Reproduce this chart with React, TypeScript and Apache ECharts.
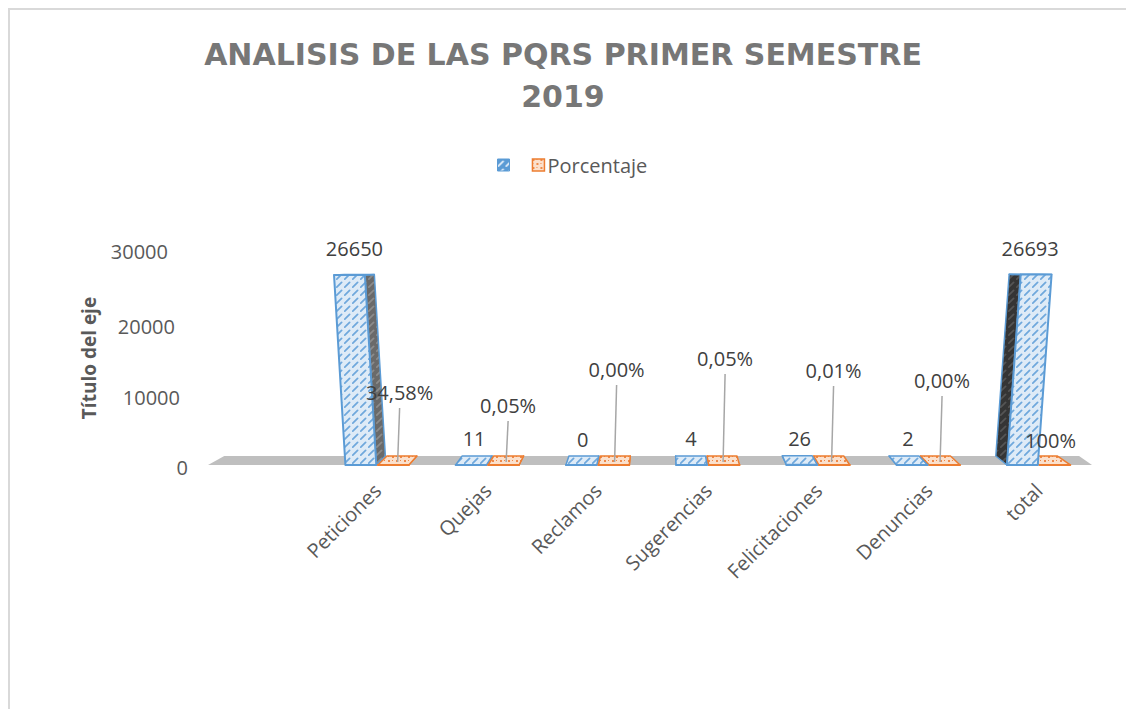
import React, { useEffect, useRef } from 'react';
import * as echarts from 'echarts';

const categories = ['', 'Peticiones', 'Quejas', 'Reclamos', 'Sugerencias', 'Felicitaciones', 'Denuncias', 'total'];
const cantidad: (number | null)[] = [null, 26650, 11, 0, 4, 26, 2, 26693];
const porcentaje: (number | null)[] = [null, 34.58, 0.05, 0.0, 0.05, 0.01, 0.0, 100];
const yTicks = [0, 10000, 20000, 30000];

// layout only: how far (px) each percentage label was pulled above the floor
const pctLabelRise = [0, 73, 60, 96, 107, 95, 85, 25];
// layout only: extra right padding of y tick labels (perspective skew)
const yLabelShift = [0, 8, 13, 20];
// layout only: vertical nudge of y tick labels (perspective)
const yLabelDrop = [4, 8, 8, 0];

const FONT = "'Open Sans', 'Noto Sans', sans-serif";

function makePattern(bg: string, fg: string, kind: 'diag' | 'check') {
  const size = 8;
  const cv = document.createElement('canvas');
  cv.width = size;
  cv.height = size;
  const ctx = cv.getContext('2d')!;
  ctx.fillStyle = bg;
  ctx.fillRect(0, 0, size, size);
  ctx.strokeStyle = fg;
  ctx.fillStyle = fg;
  ctx.lineWidth = 1.7;
  ctx.lineCap = 'round';
  if (kind === 'diag') {
    ctx.beginPath();
    ctx.moveTo(0.8, 7.2);
    ctx.lineTo(5.6, 2.4);
    ctx.stroke();
  } else {
    ctx.fillRect(0, 0, 2, 2);
    ctx.fillRect(4, 4, 2, 2);
    ctx.fillRect(4, 0, 1, 1);
    ctx.fillRect(0, 4, 1, 1);
  }
  return { image: cv.toDataURL(), repeat: 'repeat', imageWidth: size, imageHeight: size };
}

function fmtPct(v: number) {
  return v >= 100 ? '100%' : v.toFixed(2).replace('.', ',') + '%';
}

export default function App() {
  const ref = useRef<HTMLDivElement>(null);

  useEffect(() => {
    if (!ref.current) return;
    const chart = echarts.init(ref.current, undefined, { renderer: 'svg' });

    const bluePat = makePattern('#deebf7', '#6fa8dc', 'diag');
    const orangePat = makePattern('#fbe0cc', '#ee8a4a', 'check');
    const blueIcon = makePattern('#5b9bd5', '#e8f1fa', 'diag');
    const darkRight = makePattern('#6a6a6a', '#8c8c8c', 'diag');
    const darkLeft = makePattern('#353535', '#555555', 'diag');

    const geom = (params: any, api: any, kind: 'blue' | 'orange', v: number) => {
      const idx = api.value(0);
      const cs = params.coordSys;
      const base = api.coord([idx, 0]);
      const top = api.coord([idx, v]);
      const slot = api.size([1, 0])[0];
      const c = base[0];
      const zeroY = base[1];
      const VX = cs.x + cs.width * 0.508;
      const horizon = zeroY - cs.height * 0.92;
      const x0 = kind === 'blue' ? c - slot * 0.29 : c + slot * 0.005;
      const x1 = kind === 'blue' ? c - slot * 0.01 : c + slot * 0.285;
      const yt = top[1];
      const h = zeroY - yt;
      const xc = (x0 + x1) / 2;
      const s = (xc - VX) * 0.0002 * h;
      const back = (p: number[]) => {
        const f = Math.max(0, (p[1] - horizon) / (zeroY - horizon));
        return [p[0] + (VX - p[0]) * 0.032, p[1] - 9 * f];
      };
      const BL = [x0, zeroY];
      const BR = [x1, zeroY];
      const TR = [x1 + s, yt];
      const TL = [x0 + s, yt];
      return { BL, BR, TR, TL, BLb: back(BL), BRb: back(BR), TRb: back(TR), TLb: back(TL), xc, VX, zeroY, yt };
    };

    const boxChildren = (g: any, kind: 'blue' | 'orange', zBase: number) => {
      const stroke = kind === 'blue' ? '#5b9bd5' : '#ed7d31';
      const pat = kind === 'blue' ? bluePat : orangePat;
      const rightSide = g.xc < g.VX;
      const side = rightSide ? [g.BR, g.TR, g.TRb, g.BRb] : [g.BL, g.TL, g.TLb, g.BLb];
      return [
        {
          type: 'polygon', z2: zBase,
          shape: { points: side },
          style: { fill: kind === 'blue' ? (rightSide ? darkRight : darkLeft) : orangePat, stroke, lineWidth: 1.5, lineJoin: 'round' },
        },
        {
          type: 'polygon', z2: zBase + 1,
          shape: { points: [g.TL, g.TR, g.TRb, g.TLb] },
          style: { fill: pat, stroke, lineWidth: 1.5, lineJoin: 'round' },
        },
        {
          type: 'polygon', z2: zBase + 2,
          shape: { points: [g.BL, g.BR, g.TR, g.TL] },
          style: { fill: pat, stroke, lineWidth: 2, lineJoin: 'round' },
        },
      ];
    };

    const blueData = categories
      .map((_, i) => [i, cantidad[i]])
      .filter((d) => d[1] != null);
    const orangeData = categories
      .map((_, i) => [i, porcentaje[i] == null ? null : (porcentaje[i] as number) / 100, porcentaje[i]])
      .filter((d) => d[2] != null);

    const option: any = {
      animation: false,
      title: {
        text: 'ANALISIS DE LAS PQRS PRIMER SEMESTRE\n2019',
        left: 'center',
        top: 33,
        padding: [0, 0, 0, 18],
        textStyle: {
          fontFamily: "'DejaVu Sans', sans-serif",
          fontWeight: 'bold',
          fontSize: 30,
          lineHeight: 42,
          color: '#777777',
        },
      },
      legend: {
        left: 492,
        top: 150,
        icon: 'rect',
        itemWidth: 12,
        itemHeight: 12,
        itemGap: 14,
        textStyle: { color: '#595959', fontSize: 20, fontFamily: FONT, padding: [0, 0, 0, -2] },
        data: [
          { name: ' ', itemStyle: { color: blueIcon, borderColor: '#5b9bd5', borderWidth: 1 } },
          { name: 'Porcentaje', itemStyle: { color: orangePat, borderColor: '#ed7d31', borderWidth: 1.5 } },
        ],
      },
      graphic: [
        { type: 'line', shape: { x1: 8, y1: 9, x2: 1126, y2: 9 }, style: { stroke: '#d9d9d9', lineWidth: 2 } },
        { type: 'line', shape: { x1: 9, y1: 8, x2: 9, y2: 709 }, style: { stroke: '#d9d9d9', lineWidth: 2 } },
      ],
      grid: { left: 212, right: 32, top: 251, bottom: 244 },
      xAxis: {
        type: 'category',
        data: categories,
        axisLine: { show: false },
        axisTick: { show: false },
        splitLine: { show: false },
        axisLabel: {
          interval: 0,
          rotate: 45,
          margin: 22,
          color: '#595959',
          fontSize: 20,
          fontFamily: FONT,
        },
      },
      yAxis: {
        type: 'value',
        min: 0,
        max: 30000,
        interval: 10000,
        name: 'Título del eje',
        nameLocation: 'middle',
        nameRotate: 90,
        nameGap: 114,
        nameTextStyle: { color: '#595959', fontSize: 19, fontWeight: 'bold', fontFamily: FONT },
        axisLine: { show: false },
        axisTick: { show: false },
        splitLine: { show: false },
        axisLabel: {
          margin: 24,
          formatter: (v: number) => `{r${yTicks.indexOf(v)}|${v}}`,
          rich: Object.fromEntries(
            yTicks.map((_, i) => [
              'r' + i,
              { color: '#595959', fontSize: 20, fontFamily: FONT, padding: [yLabelDrop[i], yLabelShift[i], 0, 0] },
            ])
          ),
        },
      },
      series: [
        {
          type: 'custom',
          name: 'floor',
          z: 1,
          silent: true,
          data: [[0, 0]],
          renderItem: (params: any, api: any) => {
            const cs = params.coordSys;
            const zeroY = api.coord([0, 0])[1];
            const VX = cs.x + cs.width * 0.508;
            const fl = [cs.x - 4, zeroY];
            const fr = [cs.x + cs.width - 2, zeroY];
            const bl = [fl[0] + (VX - fl[0]) * 0.036, zeroY - 9];
            const br = [fr[0] + (VX - fr[0]) * 0.03, zeroY - 9];
            return {
              type: 'polygon',
              shape: { points: [fl, fr, br, bl] },
              style: { fill: '#bfbfbf' },
            };
          },
        },
        {
          type: 'custom',
          name: ' ',
          z: 2,
          itemStyle: { color: '#5b9bd5' },
          data: blueData,
          renderItem: (params: any, api: any) => {
            const v = api.value(1);
            const g = geom(params, api, 'blue', v);
            const zBase = g.xc < g.VX ? 10 : 30;
            const lx = (g.TL[0] + g.TR[0] + g.TLb[0] + g.TRb[0]) / 4;
            return {
              type: 'group',
              children: [
                ...boxChildren(g, 'blue', zBase),
                {
                  type: 'text', z2: 60,
                  style: {
                    text: String(v),
                    x: lx,
                    y: g.yt - 16,
                    align: 'center', verticalAlign: 'bottom',
                    textAlign: 'center', textVerticalAlign: 'bottom',
                    fill: '#404040',
                    fontSize: 20, fontFamily: FONT,
                  },
                },
              ],
            };
          },
        },
        {
          type: 'custom',
          name: 'Porcentaje',
          z: 2,
          itemStyle: { color: '#ed7d31' },
          data: orangeData,
          renderItem: (params: any, api: any) => {
            const idx = api.value(0);
            const v = api.value(1);
            const pct = api.value(2);
            const g = geom(params, api, 'orange', v);
            const zBase = g.xc < g.VX ? 30 : 10;
            const lx = (g.BL[0] + g.BR[0] + g.BLb[0] + g.BRb[0]) / 4 + 2;
            const rise = pctLabelRise[idx];
            const cy = g.zeroY - rise;
            const children: any[] = [...boxChildren(g, 'orange', zBase)];
            if (rise > 40) {
              children.push({
                type: 'line', z2: 55,
                shape: { x1: lx - 2, y1: g.zeroY - 3, x2: lx, y2: cy + 16 },
                style: { stroke: '#a6a6a6', lineWidth: 1.5 },
              });
            }
            children.push({
              type: 'text', z2: 60,
              style: {
                text: fmtPct(pct),
                x: lx,
                y: cy,
                align: 'center', verticalAlign: 'middle',
                textAlign: 'center', textVerticalAlign: 'middle',
                fill: '#404040',
                fontSize: 20, fontFamily: FONT,
              },
            });
            return { type: 'group', children };
          },
        },
      ],
    };

    chart.setOption(option);
    return () => chart.dispose();
  }, []);

  return (
    <div
      ref={ref}
      style={{ position: 'fixed', left: 0, top: 0, width: 1126, height: 709, background: '#ffffff' }}
    />
  );
}
